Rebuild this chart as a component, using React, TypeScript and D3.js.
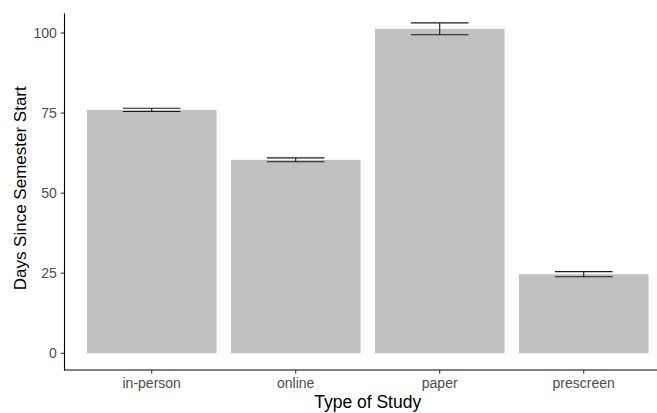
import React from 'react';
import * as d3 from 'd3';

const categories = ['in-person', 'online', 'paper', 'prescreen'];
const means = [76.0, 60.4, 101.3, 24.7];
const errors = [0.5, 0.6, 1.85, 0.8];
const yTicks = [0, 25, 50, 75, 100];

const width = 657;
const height = 413;
const font = '"Liberation Sans", Arial, Helvetica, sans-serif';

export default function App() {
  // plot panel (ggplot style, right side gets cropped by the window)
  const left = 65.3;
  const step = 144;
  const x = d3
    .scaleBand()
    .domain(categories)
    .range([left, left + 4.2 * step])
    .paddingInner(0.1)
    .paddingOuter(0.15);

  const y = d3.scaleLinear().domain([0, 100]).range([353.3, 33]);
  const yBottom = y(-5.2);
  const yTop = y(106.2);

  const bw = x.bandwidth();
  const capHalf = 0.2 * x.step();

  return (
    <svg
      width={width}
      height={height}
      style={{ position: 'absolute', left: 0, top: 0, background: '#fff' }}
      fontFamily={font}
    >
      {/* bars */}
      {categories.map((c, i) => (
        <rect
          key={c}
          x={x(c)}
          y={y(means[i])}
          width={bw}
          height={y(0) - y(means[i])}
          fill="#c0c0c0"
        />
      ))}

      {/* error bars */}
      {categories.map((c, i) => {
        const cx = x(c) + bw / 2;
        const hi = y(means[i] + errors[i]);
        const lo = y(means[i] - errors[i]);
        return (
          <g key={c} stroke="#1a1a1a" strokeWidth={1.1} fill="none">
            <line x1={cx - capHalf} x2={cx + capHalf} y1={hi} y2={hi} />
            <line x1={cx - capHalf} x2={cx + capHalf} y1={lo} y2={lo} />
            <line x1={cx} x2={cx} y1={hi} y2={lo} />
          </g>
        );
      })}

      {/* y axis */}
      <line x1={left - 0.8} x2={left - 0.8} y1={yTop} y2={yBottom + 0.5} stroke="#000" strokeWidth={1.1} />
      {yTicks.map((t) => (
        <g key={t}>
          <line x1={left - 4.5} x2={left - 0.8} y1={y(t)} y2={y(t)} stroke="#333" strokeWidth={1.1} />
          <text
            x={left - 8.5}
            y={y(t)}
            dy="0.36em"
            textAnchor="end"
            fontSize={14}
            fill="#4d4d4d"
          >
            {t}
          </text>
        </g>
      ))}

      {/* x axis */}
      <line x1={left - 1.3} x2={width} y1={yBottom} y2={yBottom} stroke="#000" strokeWidth={1.1} />
      {categories.map((c) => {
        const cx = x(c) + bw / 2;
        return (
          <g key={c}>
            <line x1={cx} x2={cx} y1={yBottom} y2={yBottom + 3.7} stroke="#333" strokeWidth={1.1} />
            <text x={cx} y={388} textAnchor="middle" fontSize={14} fill="#4d4d4d">
              {c}
            </text>
          </g>
        );
      })}

      {/* axis titles */}
      <text x={left + 2.1 * step} y={407.7} textAnchor="middle" fontSize={17.5} fill="#000">
        Type of Study
      </text>
      <text
        transform={`translate(26,188.3) rotate(-90)`}
        textAnchor="middle"
        fontSize={17}
        fill="#000"
      >
        Days Since Semester Start
      </text>
    </svg>
  );
}
